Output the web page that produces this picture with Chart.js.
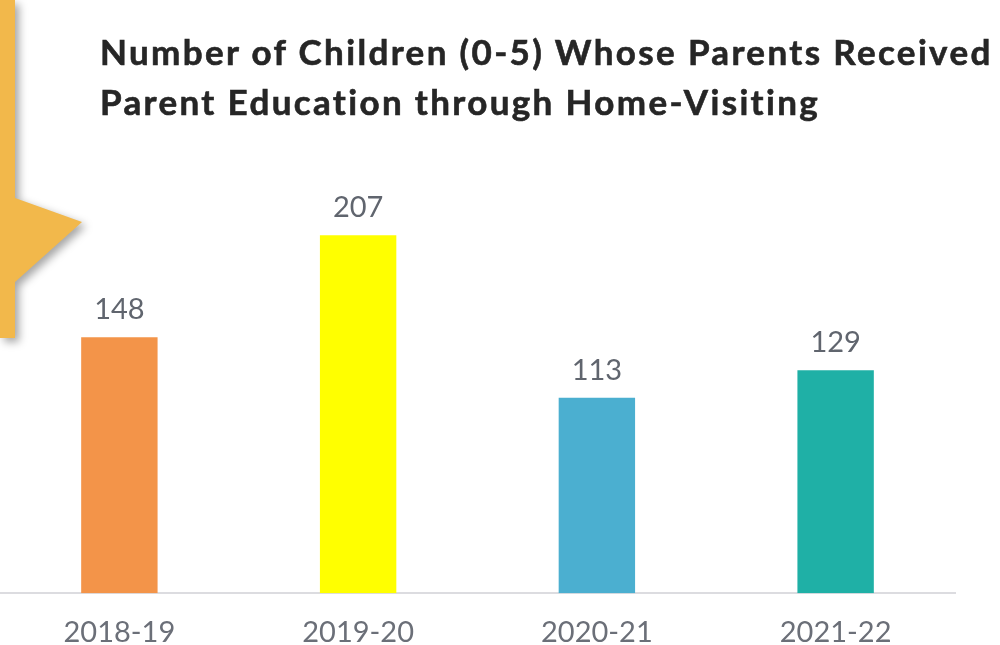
<!DOCTYPE html>
<html>
<head>
<meta charset="utf-8">
<script src="https://cdn.jsdelivr.net/npm/chart.js@4"></script>
<style>
    html, body { margin: 0; padding: 0; background: #fff; }
    #wrap { position: relative; width: 1000px; height: 645px; overflow: hidden; }
    #chart-home-visiting { position: absolute; left: 0; top: 0; }
    #title {
        position: absolute; left: 100px; top: 26px;
        font-family: Lato, sans-serif; font-weight: 700; font-size: 35px;
        line-height: 50px; color: #262626; letter-spacing: 2.35px; white-space: nowrap;
        -webkit-text-stroke: 0.6px #262626;
    }
    #callout { position: absolute; left: 0; top: 0; filter: drop-shadow(4px 4px 4px rgba(0,0,0,0.35)); }
</style>
</head>
<body>
<div id="wrap">
    <canvas id="chart-home-visiting" width="1000" height="645"></canvas>
    <svg id="callout" width="100" height="350">
        <polygon points="0,0 15,0 15,198 82,222 15,282 15,338 0,338" fill="#F2B84B"/>
    </svg>
    <div id="title">Number of Children (0-5) Whose Parents Received<br>Parent Education through Home-Visiting</div>
</div>
<script>
const years = ['2018-19', '2019-20', '2020-21', '2021-22'];
const childrenServed = [148, 207, 113, 129];
const barColors = ['#F39449', '#FFFF00', '#4BAFD0', '#1FB0A6'];

const chartElement = document.getElementById('chart-home-visiting');

// draws the value above each bar
const valueLabels = {
    id: 'valueLabels',
    afterDatasetsDraw(chart) {
        const ctx = chart.ctx;
        const meta = chart.getDatasetMeta(0);
        ctx.save();
        ctx.fillStyle = '#60656E';
        ctx.font = '29px Lato, sans-serif';
        ctx.textAlign = 'center';
        ctx.textBaseline = 'alphabetic';
        meta.data.forEach(function (bar, i) {
            ctx.fillText(chart.data.datasets[0].data[i], bar.x, bar.y - 18);
        });
        ctx.restore();
    }
};

let chartHomeVisiting = new Chart(chartElement, {
    type: 'bar',
    data: {
        labels: years,
        datasets: [{
            data: childrenServed,
            backgroundColor: barColors,
            barPercentage: 0.4,
            categoryPercentage: 0.8
        }]
    },
    options: {
        responsive: false,
        animation: false,
        layout: {
            padding: { left: 0, right: 45, top: 161, bottom: -27 }
        },
        scales: {
            y: {
                display: false,
                min: 0,
                max: 250
            },
            x: {
                grid: { display: false, drawTicks: false },
                border: { display: true, color: '#DCDCE0', width: 2 },
                ticks: {
                    color: '#6B6F78',
                    padding: 22,
                    font: { family: 'Lato, sans-serif', size: 29 }
                }
            }
        },
        plugins: {
            legend: { display: false },
            tooltip: { enabled: false }
        }
    },
    plugins: [valueLabels]
});
</script>
</body>
</html>
